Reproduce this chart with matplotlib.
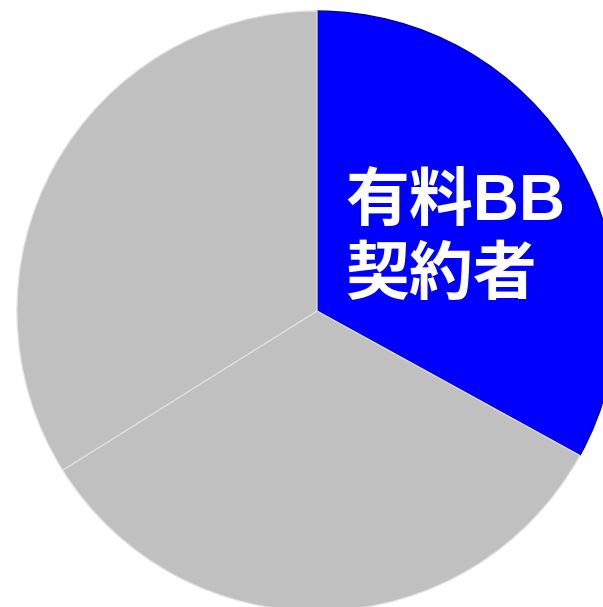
import matplotlib
matplotlib.use("Agg")
import matplotlib.pyplot as plt

labels = ["有料BB\n契約者", "", ""]
values = [33.0, 33.1, 33.9]
colors = ["#0000ff", "#c0c0c0", "#c0c0c0"]
edges = ["#000080", "#e0e0e0", "#e0e0e0"]

W, H = 603, 607
fig = plt.figure(figsize=(W / 100, H / 100), dpi=100)
ax = fig.add_axes([0, 0, 1, 1])

cx, cy, r = 317, H - 311, 300
wedges, _ = ax.pie(values, colors=colors, startangle=90, counterclock=False,
                   center=(cx, cy), radius=r, frame=True)
for w, ec in zip(wedges, edges):
    w.set_edgecolor(ec)
    w.set_linewidth(0.9)
ax.set_xlim(0, W)
ax.set_ylim(0, H)
ax.set_aspect("auto")
ax.axis("off")

ax.text(345, H - 240, labels[0], color="white", fontsize=46, fontweight="bold",
        family=["Liberation Sans", "Noto Sans CJK JP"], ha="left", va="center",
        linespacing=1.3)

fig.savefig("out.png", dpi=100)
